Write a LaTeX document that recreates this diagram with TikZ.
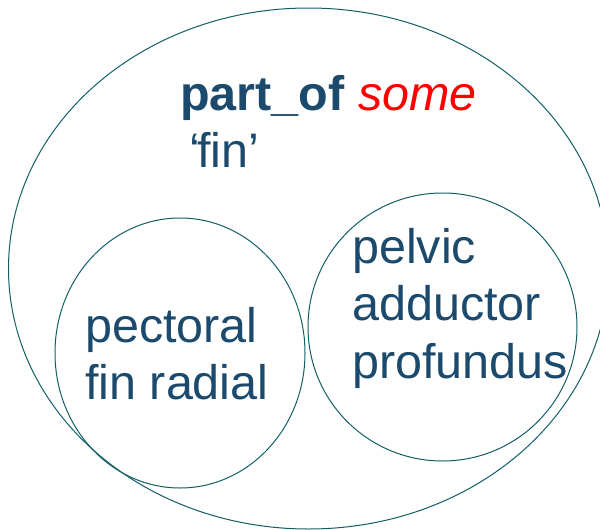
\documentclass[tikz,border=0pt]{standalone}
\usepackage{fontspec}
\setmainfont{Liberation Sans}
\usetikzlibrary{shapes.geometric}
\definecolor{txtblue}{HTML}{1B4A6D}
\definecolor{linecol}{HTML}{115E67}
\definecolor{somered}{HTML}{FF0000}
\begin{document}
\begin{tikzpicture}[x=1pt,y=-1pt,
  setshape/.style={ellipse,draw=linecol,line width=1pt,inner sep=0pt,fill=none},
  lbl/.style={anchor=base west,inner sep=0pt,text=txtblue,font=\fontsize{48.5}{57}\selectfont}]
\useasboundingbox (0,0) rectangle (600,530);
% outer set
\node[setshape,minimum width=600pt,minimum height=521pt] (outer) at (308.5,268.5) {};
% pectoral fin radial set
\node[setshape,minimum width=250pt,minimum height=270pt] (pect) at (180,353) {};
% pelvic adductor profundus set
\node[setshape,minimum width=269pt,minimum height=268pt] (pelv) at (442.5,327) {};
% labels
\node[lbl] (t1) at (180,110) {\textbf{part\_of} \textcolor{somered}{\textit{some}}};
\node[lbl] (t2) at (189,167) {‘\kern-3pt fin’};
\node[lbl] (p1) at (85,342) {pectoral};
\node[lbl] (p2) at (85,399) {fin radial};
\node[lbl] (v1) at (352,263) {pelvic};
\node[lbl] (v2) at (352,320) {adductor};
\node[lbl] (v3) at (352,378) {profundus};
\end{tikzpicture}
\end{document}
